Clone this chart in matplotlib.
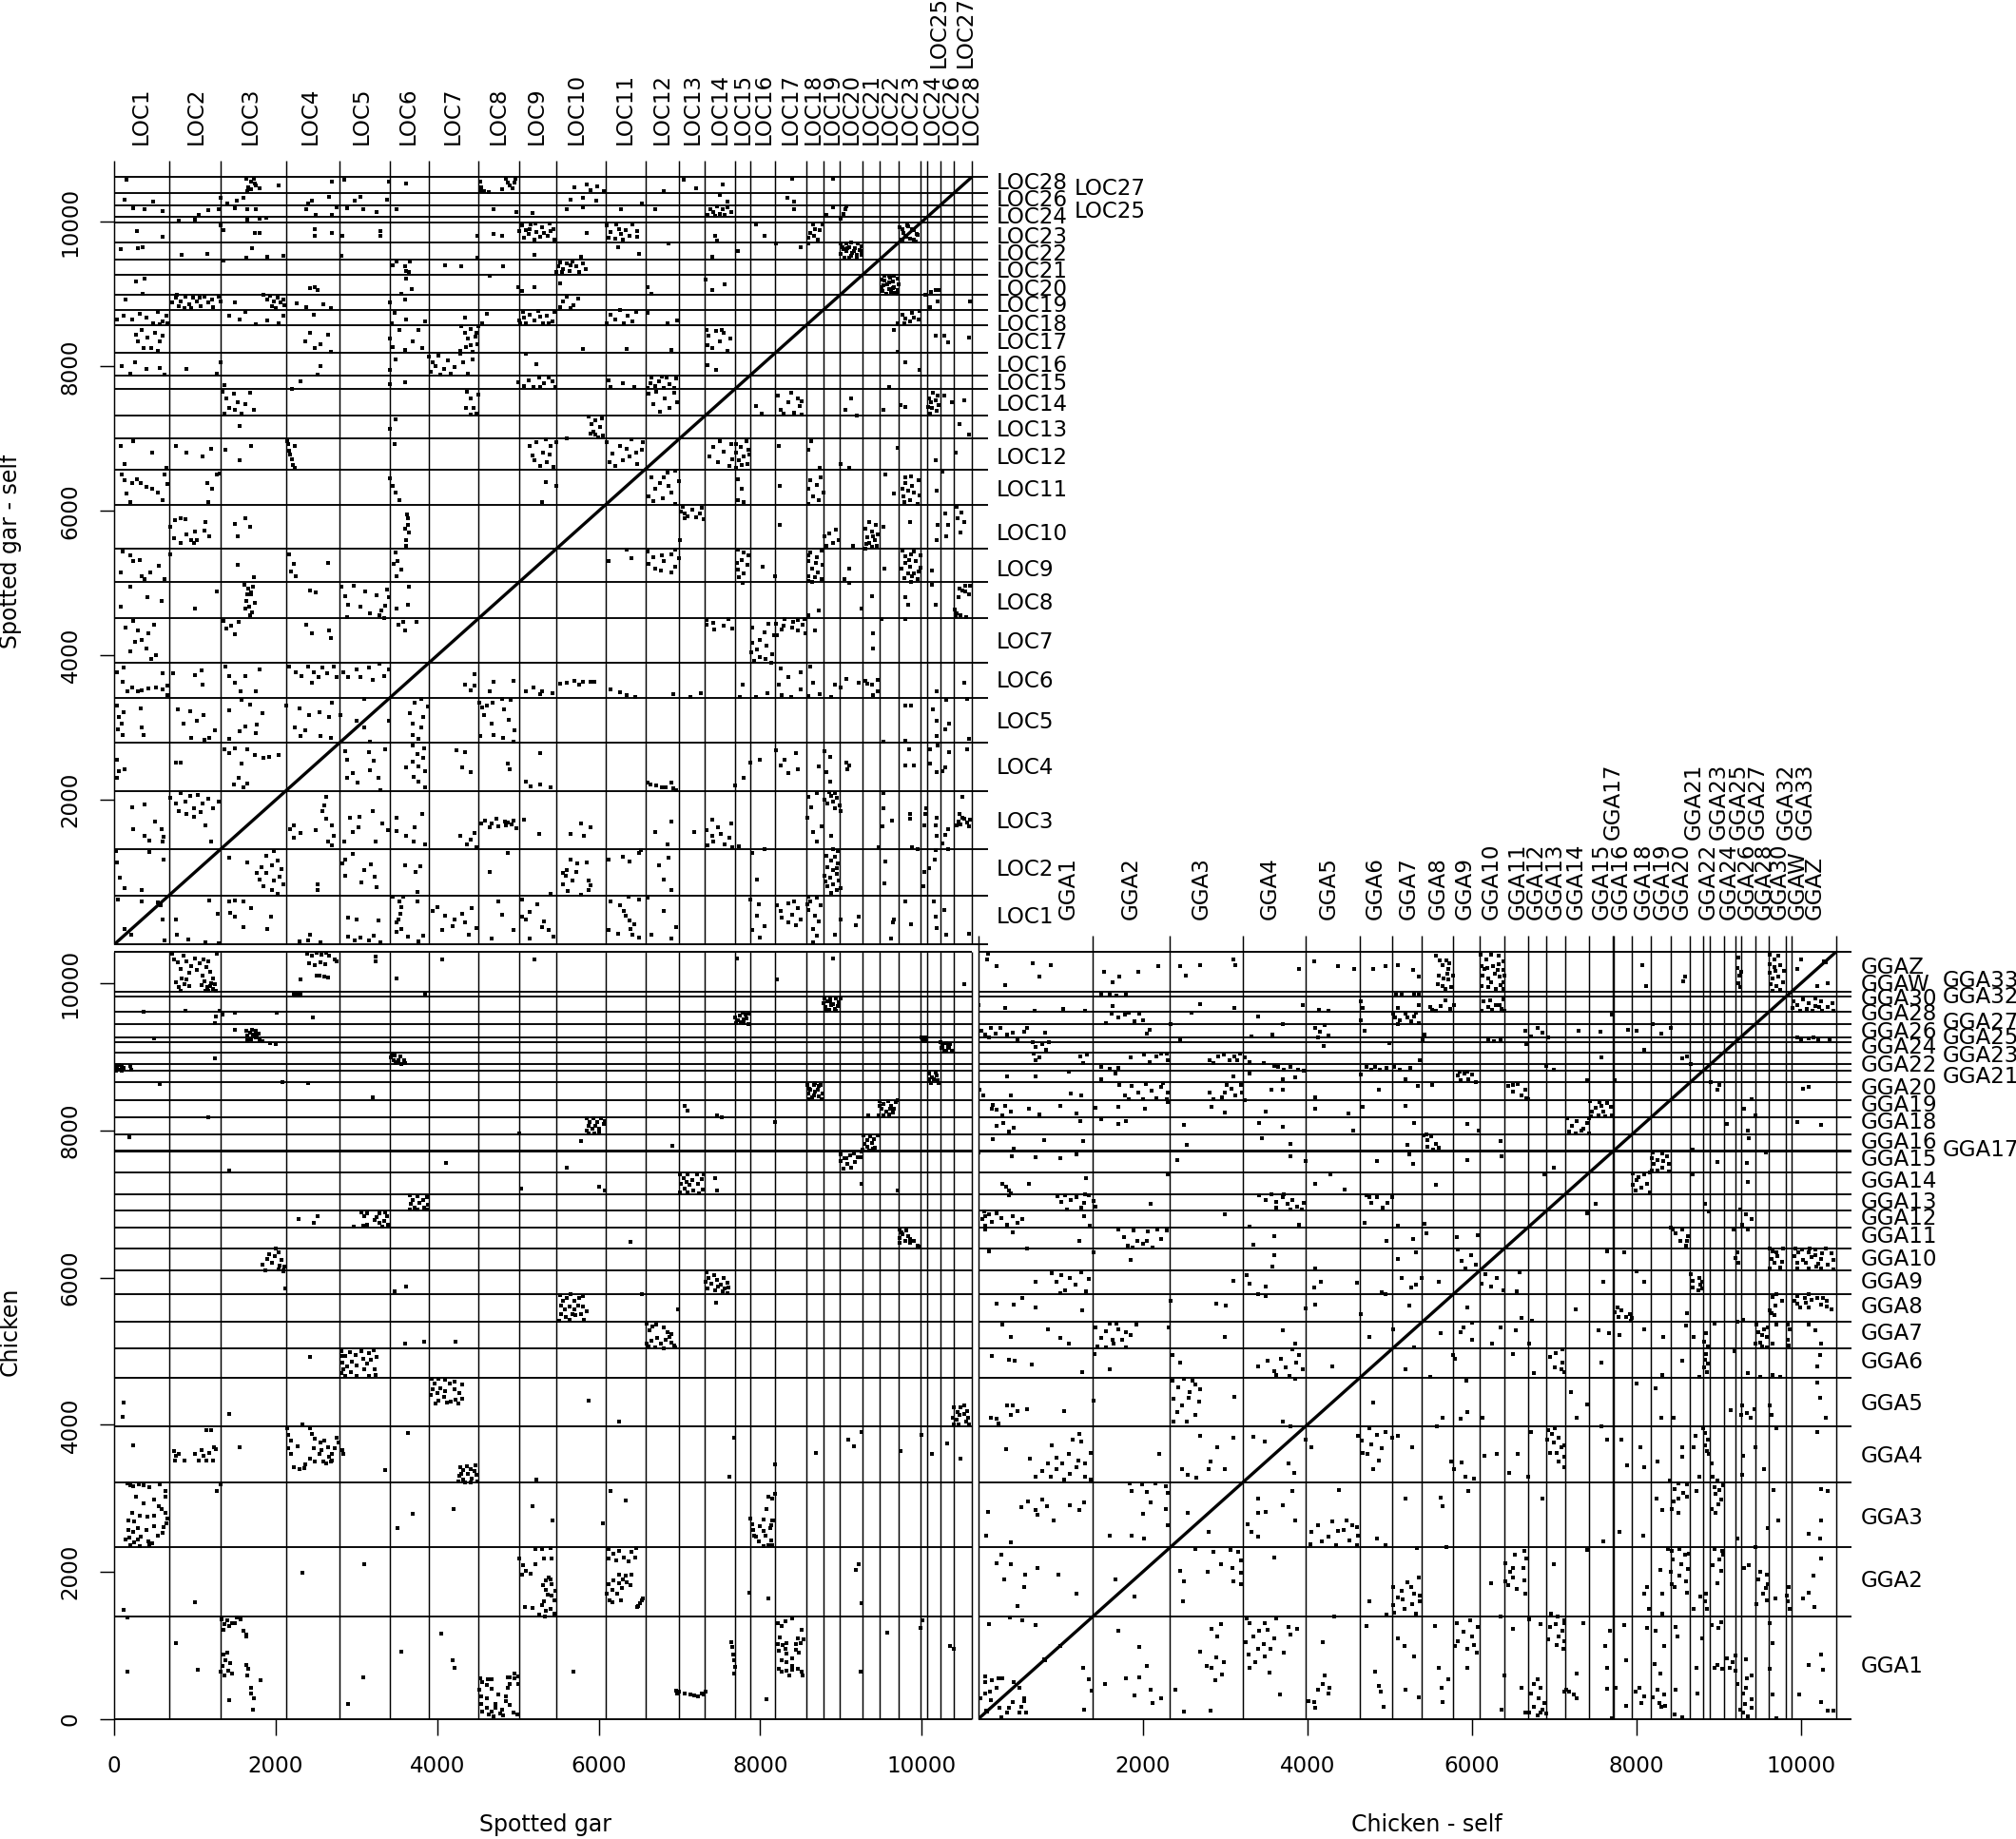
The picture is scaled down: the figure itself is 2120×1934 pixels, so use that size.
import numpy as np
import matplotlib
matplotlib.use('Agg')
import matplotlib.pyplot as plt

W, H = 2120, 1934
plt.rcParams['font.family'] = ['DejaVu Sans']
FS = 16.6

gar_breaks = [677,1314,2126,2787,3416,3893,4514,5016,5478,6083,6576,6998,7317,7691,7874,8185,8570,8785,8985,9270,9473,9712,9990,10070,10230,10395,10620]
gga_breaks = [1390,2333,3213,3980,4645,5033,5395,5777,6093,6400,6680,6909,7139,7430,7719,7730,7945,8175,8415,8652,8808,8897,9062,9205,9270,9444,9609,9822,9887,10434]

gar_top_low = ['LOC1','LOC2','LOC3','LOC4','LOC5','LOC6','LOC7','LOC8','LOC9','LOC10','LOC11','LOC12','LOC13','LOC14','LOC15','LOC16','LOC17','LOC18','LOC19','LOC20','LOC21','LOC22','LOC23','LOC24','LOC26','LOC28']
gar_top_low_at = [338,1015,1692,2424,3069,3642,4199,4756,5234,5727,6324,6786,7160,7502,7780,8043,8377,8652,8888,9123,9370,9614,9853,10132,10367,10614]
gar_top_up = ['LOC25','LOC27']
gar_top_up_at = [10206,10535]
gar_right_low = ['LOC1','LOC2','LOC3','LOC4','LOC5','LOC6','LOC7','LOC8','LOC9','LOC10','LOC11','LOC12','LOC13','LOC14','LOC15','LOC16','LOC17','LOC18','LOC19','LOC20','LOC21','LOC22','LOC23','LOC24','LOC26','LOC28']
gar_right_low_at = [385,1043,1701,2450,3070,3640,4175,4726,5187,5687,6291,6738,7110,7465,7755,8004,8320,8574,8833,9057,9311,9547,9780,10057,10297,10534]
gar_right_up = ['LOC25','LOC27']
gar_right_up_at = [10140,10459]

gga_top_low = ['GGA1','GGA2','GGA3','GGA4','GGA5','GGA6','GGA7','GGA8','GGA9','GGA10','GGA11','GGA12','GGA13','GGA14','GGA15','GGA16','GGA18','GGA19','GGA20','GGA22','GGA24','GGA26','GGA28','GGA30','GGAW','GGAZ']
gga_top_low_at = [1090,1857,2716,3550,4260,4829,5234,5589,5919,6233,6563,6786,7017,7264,7578,7809,8090,8321,8552,8874,9122,9345,9551,9741,9964,10170]
gga_top_up = ['GGA17','GGA21','GGA23','GGA25','GGA27','GGA32','GGA33']
gga_top_up_at = [7718,8701,8998,9246,9468,9823,10055]
gga_right_low = ['GGA1','GGA2','GGA3','GGA4','GGA5','GGA6','GGA7','GGA8','GGA9','GGA10','GGA11','GGA12','GGA13','GGA14','GGA15','GGA16','GGA18','GGA19','GGA20','GGA22','GGA24','GGA26','GGA28','GGA30','GGAW','GGAZ']
gga_right_low_at = [714,1879,2739,3574,4283,4858,5245,5598,5941,6249,6563,6803,7025,7301,7602,7832,8108,8340,8571,8884,9124,9341,9587,9793,9978,10208]
gga_right_up = ['GGA17','GGA21','GGA23','GGA25','GGA27','GGA32','GGA33']
gga_right_up_at = [7739,8722,9018,9264,9470,9808,10034]

gar_chicken_xy = [
720,10400,740,10320,790,10280,830,10200,860,10380,900,10300,930,10140,950,10240,1000,10340,1030,10180,1060,10270,1090,10100,1110,10330,1140,10220,1170,10300,1190,10160,1220,10060,
760,10010,800,9950,830,9900,870,9990,900,10050,930,9960,1080,9980,1120,10030,1150,9950,1170,9900,1200,10000,1220,9930,1250,9990,1130,9900,1190,9960,1260,9900,840,10060,
2390,10400,2450,10380,2510,10410,2570,10390,2620,10420,2660,10370,2410,10270,2490,10250,2550,10280,2610,10260,2510,10110,2540,10100,2600,10090,2650,10080,2730,10330,
2230,9860,2250,9845,2270,9870,2290,9850,2310,9860,2240,9835,2280,9835,2300,9875,2260,9855,
8800,9800,8830,9760,8860,9810,8900,9720,8940,9790,8970,9740,8810,9680,8850,9640,8880,9700,8920,9650,8960,9690,8820,9620,8940,9620,8870,9760,8780,9730,8990,9800,
7720,9500,7750,9560,7780,9600,7800,9510,7820,9580,7850,9450,7700,9460,7760,9470,7830,9520,7870,9590,7800,9460,7690,9540,
1640,9360,1680,9330,1710,9370,1750,9350,1790,9310,1650,9290,1690,9240,1720,9300,1760,9260,1800,9220,1650,9230,1770,9300,1840,9210,1930,9190,2000,9170,
10000,9270,10020,9250,10040,9270,10060,9240,10010,9225,10050,9215,
10230,9195,10260,9170,10300,9190,10350,9180,10240,9120,10280,9090,10320,9130,10370,9080,10260,9140,10340,9120,10300,9080,
3440,9050,3470,9020,3430,8990,3460,8950,3510,8930,3550,8900,3590,8960,3540,9000,3490,8910,3600,8920,3520,8960,
10,8890,40,8860,70,8830,100,8880,20,8810,60,8890,120,8850,90,8810,200,8880,210,8830,
10090,8780,10130,8720,10170,8790,10200,8680,10110,8650,10150,8700,10210,8640,10090,8690,10190,8750,
8580,8620,8620,8560,8660,8620,8710,8550,8750,8620,8600,8500,8640,8450,8680,8530,8730,8460,8770,8500,8590,8430,8760,8420,8660,8480,8610,8570,8720,8600,
9480,8400,9530,8360,9580,8400,9620,8330,9680,8390,9500,8290,9560,8260,9610,8290,9660,8300,9470,8210,9520,8200,9590,8220,9640,8240,9700,8410,9480,8340,
5850,8170,5890,8110,5930,8160,5980,8120,6030,8170,5870,8060,5920,8020,5960,8060,6010,8020,6060,8090,5880,7960,5950,7960,6000,7980,5850,8000,6070,8130,
9280,7930,9320,7870,9360,7920,9410,7880,9450,7940,9290,7820,9330,7780,9380,7830,9420,7760,9270,7740,9350,7730,9400,7750,
9000,7680,9040,7620,9080,7550,9130,7500,9170,7570,9210,7640,9250,7710,9030,7480,8990,7580,9110,7660,9160,7690,9260,7640,
7010,7410,7050,7350,7100,7410,7160,7320,7220,7400,7280,7340,7020,7270,7060,7210,7120,7260,7170,7180,7230,7270,7290,7200,7000,7160,7100,7160,7240,7150,7090,7300,7300,7410,
3660,7120,3700,7060,3750,7110,3830,7050,3870,7100,3670,7000,3720,6950,3780,7010,3840,6950,3880,6990,3660,6920,3760,6920,3870,6920,
3060,6890,3100,6840,3130,6720,3090,6700,3250,6820,3290,6870,3340,6770,3380,6830,3280,6740,3320,6690,3390,6720,3230,6780,3360,6890,3130,6870,
9720,6650,9760,6590,9810,6640,9850,6530,9900,6500,9950,6440,9730,6540,9790,6500,9860,6470,9970,6420,9750,6620,9830,6560,9720,6480,
2000,6390,2040,6340,1990,6290,1900,6250,1840,6180,1870,6100,1960,6200,2050,6160,2090,6090,2040,6110,2110,6150,2070,6240,1920,6320,2100,6100,
7330,6070,7360,5990,7390,5920,7430,6040,7470,5970,7510,5910,7550,5990,7590,5930,7350,5850,7440,5830,7530,5810,7590,5790,7610,5860,7320,5940,7480,5880,7560,5850,
5520,5760,5560,5690,5600,5730,5650,5770,5700,5690,5760,5720,5810,5750,5530,5620,5580,5570,5640,5610,5700,5570,5750,5620,5810,5610,5530,5500,5590,5460,5640,5430,5710,5490,5780,5500,5820,5430,5510,5420,5850,5540,5670,5510,
6590,5370,6630,5280,6660,5340,6710,5360,6800,5320,6850,5260,6900,5230,6650,5140,6720,5180,6770,5110,6830,5150,6900,5120,6590,5100,6930,5080,6700,5050,6950,5050,6620,5060,6800,5040,6880,5200,
2810,5000,2860,4930,2920,4990,2990,4950,3060,5000,3150,4980,3220,5010,3250,4920,2830,4850,2880,4800,2940,4860,3000,4810,3080,4900,3130,4830,3180,4880,3230,4760,2810,4700,2860,4660,2930,4710,3000,4670,3100,4750,3150,4660,3240,4680,2840,4760,
3930,4630,3970,4560,4010,4620,4100,4610,4160,4560,4220,4590,3950,4480,4000,4430,4040,4500,4080,4380,3920,4400,4010,4330,4100,4460,4210,4480,4270,4430,4310,4350,4230,4340,4170,4310,4260,4290,4120,4300,4310,4550,3980,4290,
10400,4240,10440,4180,10480,4240,10530,4260,10560,4190,10390,4100,10430,4070,10470,4130,10520,4150,10570,4090,10400,4010,10450,4000,10590,4000,10550,4040,
740,3650,760,3580,750,3510,800,3610,870,3510,1000,3610,1050,3510,1080,3660,1110,3580,1140,3510,1180,3620,1220,3520,1240,3700,1260,3670,1140,3930,1200,3930,
2140,3950,2160,3860,2190,3790,2420,3950,2450,3880,2490,3810,2550,3760,2600,3790,2650,3700,2700,3600,2730,3680,2750,3830,2780,3760,2160,3680,2190,3600,2370,3460,2420,3540,2480,3500,2540,3610,2590,3500,2620,3470,2680,3500,2660,3560,2700,3510,2230,3430,2300,3400,2360,3410,2820,3660,2840,3600,2470,3680,2570,3660,
4280,3430,4320,3380,4370,3440,4420,3400,4470,3450,4270,3310,4320,3260,4380,3330,4430,3270,4490,3320,4260,3230,4340,3220,4420,3220,4500,3230,4460,3370,4300,3340,
170,3200,200,3180,240,3170,310,3190,370,3180,430,3150,560,3190,630,3100,640,3020,270,3020,370,2930,490,2980,550,2900,590,2850,630,2800,660,2720,650,2660,220,2800,180,2700,250,2690,320,2760,410,2750,500,2760,180,2570,240,2550,300,2600,400,2570,490,2620,600,2530,140,2440,190,2470,250,2400,330,2480,420,2420,470,2390,200,2370,320,2350,440,2360,290,2440,540,2500,610,2610,
7880,2720,7900,2650,7910,2570,7950,2480,7980,2420,8040,2350,8100,2370,8150,2360,8130,2430,8040,2560,8000,2620,8130,2640,8170,2700,8040,2710,8120,2600,8070,2500,8080,2850,8100,3020,8180,3060,8150,3000,7920,2500,8150,2700,
5010,2180,5060,2090,5100,2020,5050,1970,5160,1980,5210,2110,5320,2190,5400,2320,5300,2310,5420,2190,5220,2310,5340,1890,5400,1900,5310,1820,5420,1830,5340,1760,5460,1750,5420,1680,5320,1600,5450,1610,5380,1930,5370,1690,5090,1520,5180,1510,5300,1550,5350,1470,5410,1500,5260,1420,5330,1390,5450,1430,
6120,2310,6180,2250,6250,2290,6310,2200,6400,2280,6450,2200,6120,2190,6220,2160,6370,2150,6330,1950,6250,1960,6180,1890,6120,1840,6100,1700,6130,1620,6170,1760,6250,1850,6300,1900,6400,1970,6390,1820,6230,1710,6290,1780,6170,1590,6280,1610,6350,1860,6460,2330,
6490,1540,6510,1570,6530,1610,6550,1640,6480,1520,
1330,1360,1370,1290,1400,1340,1460,1310,1520,1380,1570,1360,1600,1200,1640,1150,1350,1220,1430,1270,1500,1300,1640,1120,1350,880,1380,800,1340,720,1370,600,1410,660,1440,760,1400,900,1460,620,1640,740,1660,680,1650,590,1700,420,1730,280,1700,350,1720,130,1810,530,
4530,560,4560,500,4520,400,4550,310,4630,540,4540,210,4610,290,4680,410,4720,210,4760,340,4800,130,4680,100,4700,40,4850,310,4870,420,4900,200,4950,90,4960,550,5000,580,4900,570,4960,620,5000,480,4900,480,4990,70,4780,80,4640,60,4720,160,4560,100,4850,240,4620,150,4810,50,4620,470,4680,540,4870,570,
7640,1050,7650,980,7680,800,7690,710,7660,880,7680,620,
8220,1300,8270,1260,8310,1330,8400,1370,8510,1210,8470,1100,8540,1090,8320,1040,8280,1010,8310,960,8230,930,8320,890,8440,940,8480,900,8260,800,8320,770,8230,690,8320,660,8400,670,8260,640,8400,730,8470,690,8510,640,8530,600,8400,830,8500,1040,8240,1110,8220,1020,8440,1020,8360,600,
6960,390,6970,350,6990,370,7060,350,7130,340,7180,320,7230,310,7280,350,7300,340,7320,370,
120,4300,110,4110,240,3720,1270,3100,1560,3690,1320,3190,4110,7560,3600,5100,1430,4150,2270,3710,3100,2100,3640,3890,6340,2970,6050,2660,2330,1990,1000,1590,120,1480,160,1380,170,640,770,1030,1040,670,1320,650,1420,260,3360,3390,2900,210,3080,570,3550,920,4050,1160,4190,800,4210,700,4200,2860,3510,2600,5230,3260,5180,2900,5430,2700,5690,650,3700,2790,
6150,3100,8100,1640,7870,1720,9260,1570,9570,1180,9990,1240,10010,1340,10400,960,10350,1000,9240,640,8080,270,9250,3900,8690,3620,9180,2030,9220,2100,7620,3300,7680,3820,8180,3460,9160,3710,9090,3800,10000,3860,9740,3640,10310,3750,10480,3540,10120,3600,
2330,4000,6250,4050,5870,4330,4230,5130,3840,5130,3610,5880,3470,5810,2120,5850,2420,4920,2810,4930,6540,5770,6980,5570,7450,5660,6390,6490,2970,6690,2520,6840,2290,6800,2470,6740,9060,7620,9340,8200,8680,8640,9250,7280,9700,7190,7440,7350,7460,7190,6080,7180,6000,7240,5040,7210,5010,7960,5780,7860,5600,7500,6910,7790,7070,8340,7100,8270,7460,8210,7520,8180,8180,8120,
1250,9460,1250,8980,1170,8180,1420,7450,190,7910,560,8630,500,9250,1260,9550,1340,9580,1500,9370,2080,8660,2400,8640,3200,8450,1270,10400,1500,9600,1310,9630,880,9620,2460,9530,3240,10300,4060,10320,3500,10060,3850,9860,2010,9600,360,9610,2310,10050,2760,10300,3240,10360,5200,10330,8900,10340,7710,10340,8210,10050,10530,9990,
]

gar_self_xy = [
155,10580,1640,10590,1690,10560,1740,10530,1660,10480,1700,10450,1760,10500,1650,10430,1800,10470,1730,10600,2040,10500,4530,10550,4550,10480,4580,10430,4640,10410,4850,10590,4880,10540,4900,10500,4930,10470,4960,10540,4800,10450,4970,10600,4540,10420,2700,10560,2850,10580,3400,10560,3620,10530,5700,10480,5850,10520,5900,10440,5980,10490,6060,10430,6800,10420,7050,10580,7200,10470,7530,10520,8400,10590,8900,10600,
130,10300,480,10280,1320,10330,1400,10250,1520,10290,1600,10330,2450,10290,2400,10250,2660,10340,2980,10290,3050,10340,3380,10300,5650,10300,5800,10330,5970,10290,6540,10260,7500,10370,7600,10280,8330,10330,8420,10280,
230,10190,380,10170,600,10150,1050,10090,1170,10160,1300,10170,1500,10190,1650,10170,1750,10180,2380,10180,2500,10100,2700,10100,2760,10200,2880,10190,3090,10180,3250,10140,3500,10180,4700,10170,4980,10130,5180,10120,5600,10180,5800,10200,6280,10180,6700,10170,7350,10100,7380,10180,7420,10130,7460,10210,7500,10110,7530,10170,7560,10090,7600,10200,7640,10140,7440,10080,8420,10170,8820,10100,9050,10170,9060,10220,9030,10110,8900,10200,
800,10020,1000,10030,1650,10030,1800,10040,1880,10050,8990,10040,
280,9870,600,9790,1320,9950,1350,9880,1740,9850,1800,9850,2480,9900,2480,9800,2700,9840,2820,9800,3300,9800,3300,9870,4500,9800,4700,9830,4800,9800,
5050,9950,5100,9880,5160,9960,5230,9860,5300,9920,5390,9980,5440,9900,5070,9780,5130,9830,5200,9750,5280,9790,5370,9800,5450,9760,5140,9900,5320,9840,5400,9870,5020,9870,5220,9980,
5850,9850,6100,9950,6150,9860,6220,9970,6280,9830,6340,9880,6420,9960,6470,9790,6120,9780,6200,9770,6300,9760,6380,9800,6480,9870,6250,9900,
8590,9780,8620,9850,8650,9960,8680,9900,8710,9760,8740,9880,8600,9700,8660,9800,8770,9970,7440,9800,7460,9740,7950,9970,8050,9800,
9730,9920,9770,9850,9810,9790,9880,9900,9900,9760,9750,9760,9830,9940,9950,9820,
80,9620,300,9640,350,9650,840,9540,1150,9550,1350,9470,1640,9510,1710,9630,1890,9520,2100,9530,2810,9530,3500,9450,4500,9500,5200,9540,5780,9520,6240,9650,6500,9550,6870,9700,7400,9520,7720,9600,8200,9700,8500,9650,
9000,9700,9030,9620,9060,9700,9100,9650,9130,9710,9170,9640,9210,9700,9250,9660,9000,9560,9040,9510,9070,9590,9120,9530,9160,9590,9200,9500,9250,9540,9020,9650,9080,9640,9140,9570,9190,9540,9260,9600,9100,9500,9230,9610,
3450,9400,3600,9380,3610,9320,3650,9300,3660,9450,4100,9400,4300,9390,4820,9380,5480,9300,
5520,9440,5560,9350,5600,9420,5640,9320,5680,9450,5720,9380,5760,9300,5800,9430,5540,9310,5650,9400,5500,9380,5840,9350,
270,9180,350,9000,380,9220,2430,9080,2480,9100,2520,9060,3560,9000,3620,9220,3680,9070,4650,9260,5000,9100,5050,9040,5200,9100,5520,9150,6600,9100,6650,9000,7320,9200,7400,9050,7560,9130,
140,8930,760,8950,720,8880,780,8990,830,8900,880,8970,930,8860,980,8950,1030,8900,1070,8830,1120,8960,1160,8880,1210,8930,800,8830,870,8810,950,8800,1060,8950,1230,8820,1290,8960,
1320,8900,1500,8880,1850,8990,1890,8930,1930,8980,1980,8900,2030,8950,2060,8880,2090,8930,2110,8850,1950,8830,2000,8800,2260,8870,2380,8820,2590,8860,2680,8800,
3420,8880,3600,8920,5520,8820,5560,8900,5600,8970,5650,8800,5690,8850,5740,8940,
30,8650,120,8700,220,8650,320,8730,400,8680,480,8600,540,8750,600,8620,650,8700,560,8580,660,8590,1420,8700,1560,8650,1630,8760,1750,8580,1900,8630,2040,8600,2090,8700,2470,8720,3440,8600,3470,8740,3620,8650,3850,8620,4350,8680,4560,8600,4620,8730,
5020,8640,5060,8760,5100,8590,5150,8710,5200,8640,5250,8770,5310,8600,5360,8700,5430,8620,5450,8760,5080,8680,5380,8590,5030,8590,5280,8690,
6100,8600,6150,8720,6200,8650,6260,8780,6310,8600,6360,8700,6420,8620,6460,8750,6600,8740,6850,8600,6970,8630,
270,8440,300,8350,340,8500,370,8260,410,8400,460,8250,510,8470,540,8210,570,8350,600,8420,2370,8350,2420,8470,2480,8250,2560,8300,2650,8440,2690,8200,3420,8380,3450,8270,3530,8500,3600,8230,3700,8350,3770,8500,3820,8250,
4300,8560,4340,8470,4380,8390,4420,8520,4470,8410,4500,8300,4360,8270,4440,8200,4410,8290,4490,8460,4280,8210,4510,8550,
5800,8240,6350,8240,6900,8230,7330,8510,7360,8420,7400,8250,7450,8490,7500,8350,7550,8460,7590,8220,7630,8380,7350,8290,7520,8510,
100,8000,200,7900,260,8050,400,7960,560,7980,620,7880,900,7960,1270,7900,1320,8050,2560,8000,2520,7880,3420,7950,3480,8090,
3900,8130,3950,8060,3980,8000,4020,8150,4080,7960,4130,8080,4170,7900,4220,7990,4280,8170,4320,8050,4380,7900,3920,7920,4040,7890,4440,8100,
5230,8030,5100,8180,7350,8020,7450,7950,
5000,7780,5080,7730,5130,7800,5190,7720,5260,7840,5320,7770,5380,7850,5430,7790,5460,7720,5280,7710,
1360,7740,2310,7790,2200,7690,3420,7750,3600,7780,6120,7800,6150,7720,6300,7770,6440,7720,6600,7700,6650,7840,6700,7730,6750,7790,6800,7700,6840,7850,6880,7760,6930,7700,6960,7830,6640,7770,6780,7860,
1340,7650,1390,7560,1430,7420,1480,7620,1530,7510,1580,7340,1620,7480,1680,7640,1730,7400,1370,7350,1500,7400,4370,7650,4410,7550,4450,7420,4490,7340,4420,7330,4510,7610,4360,7430,6620,7620,6670,7480,6710,7650,6760,7370,6820,7550,6880,7420,6930,7640,6970,7500,
5880,7300,5910,7200,5930,7100,5960,7250,5990,7020,6020,7160,6040,7280,5900,7070,5960,7060,6050,7040,
1560,7180,3420,7130,3480,7270,5600,7000,
2140,6960,2170,6830,2200,6710,2240,6900,2210,6640,2180,6780,2240,6600,2160,6920,
80,6900,240,6960,130,6650,470,6800,650,6600,760,6900,900,6800,1100,6750,1200,6860,1380,6850,1550,6700,1700,6900,3470,6920,
5150,6900,5180,6770,5230,6950,5270,6620,5310,6800,5360,6680,5400,6900,5440,6610,5470,6950,5200,6700,5340,6990,5390,6780,
6100,6950,6170,6790,6200,6620,6260,6900,6300,6700,6350,6860,6410,6990,6470,6650,6530,6850,6550,6950,6130,6680,6380,6760,6460,6810,
100,6500,150,6240,220,6390,280,6440,330,6380,400,6330,470,6310,540,6260,600,6150,660,6370,130,6420,200,6120,620,6500,
1150,6380,1210,6300,1270,6500,1170,6120,1310,6520,3450,6350,3490,6260,3530,6150,3420,6450,5300,6120,5350,6400,5470,6350,
1030,5600,820,5900,690,5780,740,5620,830,5560,890,5680,1000,5720,1130,5850,1180,5650,990,5560,880,5880,950,5590,750,5870,1120,5730,
1500,5820,1620,5900,1680,5780,1530,5650,3630,5950,3640,5800,3650,5700,3620,5600,3610,5520,3640,5900,3600,5760,
110,5440,200,5380,320,5320,450,5150,700,5400,80,5150,340,5100,380,5050,620,5050,550,5240,240,5300,2170,5400,2220,5270,2250,5100,2190,5160,
1530,5260,1730,5080,3480,5430,3460,5270,3500,5100,2650,5280,3510,5300,3550,5190,
1610,4980,1660,4920,1690,4870,1640,4760,1670,4680,1710,4590,1700,4840,1620,4650,1680,4550,1720,4950,1650,4850,1740,4730,
2810,4950,2860,4820,2900,4700,2970,4960,3050,4680,3110,4890,3170,4580,3250,4830,3310,4620,3350,4690,3400,4800,3380,4910,2890,4530,3280,4560,3340,4520,
200,4950,410,4800,80,4670,590,4760,1000,4650,1270,4880,2420,4900,2500,4870,3650,4950,3640,4700,3500,4650,
230,4480,300,4350,340,4220,400,4100,460,3950,520,4000,260,4190,140,4390,420,4310,200,4060,500,4430,
1350,4480,1390,4370,1450,4410,1500,4290,1540,4460,2380,4420,2450,4310,2660,4350,2690,4240,3520,4420,3600,4350,3740,4460,3580,4460,
40,3770,110,3640,300,3500,220,3560,170,3500,340,3520,420,3540,520,3560,600,3530,660,3580,600,3760,660,3450,120,3830,730,3760,1000,3730,1080,3790,1100,3600,
1380,3850,1430,3710,1500,3620,1570,3500,1620,3720,1750,3500,1800,3810,
2170,3850,2250,3770,2320,3710,2400,3850,2470,3770,2530,3700,2580,3830,2640,3750,2720,3840,2760,3700,2840,3770,2900,3700,3000,3800,3050,3700,3150,3830,3200,3660,3340,3720,3400,3800,3290,3880,2450,3620,
30,3300,60,3150,90,3050,50,2980,110,2900,340,3000,330,3270,370,2900,120,3220,
790,3250,940,3230,1110,3180,1030,3100,860,3060,950,2860,1120,2830,1250,2960,1180,2860,
1420,3240,1580,3390,1680,3320,1840,3200,1770,3040,1620,3020,1560,2950,1750,2920,1430,2850,
2130,3300,2300,3270,2410,3170,2540,3210,2700,3350,2660,3150,2240,3010,2370,2960,2560,2890,2680,2860,2310,2890,
2800,3170,3400,3100,3100,3000,
30,2550,40,2300,60,2400,130,2420,760,2520,830,2520,1370,2700,1420,2650,1500,2720,1580,2500,1650,2700,1740,2620,1850,2580,1920,2600,2040,2620,
1540,2310,1650,2230,1480,2220,1600,2180,
700,2030,760,1950,830,2100,880,1980,940,2050,990,1880,1040,2070,1100,1950,1160,2020,1230,1880,800,1850,900,1800,990,1770,1070,1830,1290,1980,1130,1650,1200,1430,
220,1900,380,1940,510,1700,240,1600,380,1500,440,1440,590,1600,610,1490,600,1420,
20,1290,30,1130,70,920,430,1280,610,1180,
50,620,130,780,340,760,540,580,600,340,210,130,
]

chicken_self_xy = [
110,10320,120,10400,230,10240,330,9980,670,10270,740,10090,880,10250,1530,10160,1640,10020,1720,10090,1950,10150,2190,10240,2450,10230,2520,10100,2700,10250,3100,10330,3130,10250,3900,10200,4090,10300,4370,10230,4570,10200,4800,10200,4950,10230,5290,10180,5360,10090,5100,10250,8070,10250,8120,9960,8590,10090,8570,10030,
5570,10370,5610,10310,5640,10250,5690,10310,5720,10200,5700,10130,5660,10060,5590,9990,5650,9960,5720,10050,5770,10100,5750,9950,5600,10100,5680,9920,5730,10270,
6110,10390,6180,10320,6240,10390,6330,10370,6390,10300,6120,10240,6190,10210,6260,10240,6330,10260,6380,10180,6130,10100,6200,10060,6280,10130,6340,10090,6380,10010,6120,9960,6200,9950,6290,9920,6350,9970,6390,9930,6240,10020,6150,10190,6310,10180,6400,10110,
9240,10350,9230,10210,9250,10100,9240,10000,9260,9950,9270,10150,
9620,10390,9680,10320,9730,10380,9620,10260,9680,10220,9750,10250,9790,10170,9620,10140,9650,10070,9730,10090,9630,9990,9700,9960,9780,10020,9660,9900,9750,9910,9690,10170,
10000,10330,9960,10200,10280,10300,
1500,9860,1600,9840,1680,9830,1800,9850,5080,9850,5150,9840,5300,9860,5360,9840,
10,9700,330,9660,690,9620,1030,9650,1300,9620,1640,9690,2700,9720,3120,9670,3950,9700,4140,9640,4260,9620,4680,9660,4650,9750,5360,9700,5100,9660,
5490,9680,5560,9620,5620,9690,5680,9770,5740,9650,5780,9700,5520,9640,6120,9620,6200,9680,6290,9710,6360,9650,6140,9750,6250,9640,6340,9700,6400,9620,6220,9770,6390,9780,
5050,9590,5120,9500,5190,9590,5260,9480,5300,9550,5360,9460,5100,9450,5220,9530,5320,9600,5070,9530,1560,9460,1620,9590,1700,9540,1780,9580,1830,9600,1900,9480,1960,9590,
2000,9500,2600,9600,3400,9550,2340,9450,3700,9450,4650,9500,7700,9570,8200,9450,
40,9350,90,9300,160,9400,210,9320,270,9400,350,9300,420,9330,480,9230,560,9340,130,9260,600,9400,810,9330,2050,9310,2090,9370,3320,9280,3580,9300,
4100,9390,4160,9340,4210,9430,4260,9290,4130,9270,4700,9350,5430,9300,6650,9350,6720,9280,6800,9400,6860,9330,6930,9260,7300,9350,7560,9340,7900,9370,8000,9350,8300,9310,8420,9400,
660,9200,700,9130,780,9170,830,9100,860,9200,2450,9230,4200,9150,5000,9190,5400,9230,6200,9240,6270,9210,6350,9230,6660,9180,8090,9100,
680,9040,740,8990,1240,9000,1280,8920,1320,9030,700,8950,1850,8990,2020,9030,2090,8930,2170,9010,2230,9050,2310,8950,2290,9040,
2810,8960,2860,8920,2920,9000,2990,9030,3060,8960,3110,9010,3180,9050,3240,8990,3300,8930,3150,8950,3470,8920,5370,8950,7570,8990,8560,8980,8620,9010,8660,8900,
1500,8860,1600,8840,1700,8850,3600,8880,3650,8860,3720,8830,3800,8870,3890,8830,3960,8810,4720,8860,4780,8820,4830,8870,4880,8830,4960,8850,5060,8870,5130,8820,5250,8850,6900,8880,7000,8830,
350,8740,700,8730,1100,8800,1500,8700,1670,8780,3100,8730,3300,8770,3700,8700,3850,8720,4650,8760,5200,8700,
5830,8750,5870,8680,5910,8780,5960,8690,6000,8760,6050,8660,5850,8800,5950,8800,7400,8680,7740,8680,
20,8560,60,8470,400,8480,1130,8500,1250,8480,1720,8620,1790,8470,1870,8600,1950,8520,2000,8420,2040,8630,2110,8540,2170,8440,2230,8590,2290,8430,2310,8520,1830,8430,2250,8640,
2810,8510,2860,8430,2960,8450,3020,8620,3080,8570,3130,8470,3190,8620,3210,8510,3000,8510,3700,8560,3560,8560,4100,8450,4870,8560,5350,8600,5520,8620,
6440,8600,6500,8530,6560,8630,6600,8480,6660,8440,6650,8560,6500,8620,6680,8420,
180,8350,170,8300,300,8200,220,8280,330,8340,400,8260,620,8290,750,8220,1000,8340,1200,8230,1430,8310,1700,8320,2030,8290,2310,8380,2840,8320,3000,8240,3240,8410,3500,8260,4100,8300,4500,8230,4680,8320,5200,8330,
7440,8400,7500,8310,7550,8390,7600,8260,7650,8370,7700,8200,7460,8260,7540,8210,7620,8190,7690,8320,7450,8190,7580,8330,
220,8060,310,8100,380,7990,430,8040,1240,8130,1500,8150,1700,8090,1800,8130,2500,8080,3420,8100,3700,8050,4560,8000,5300,8100,5950,8090,6080,8000,
7160,8160,7220,8060,7280,8130,7330,8000,7400,8100,7180,7990,7260,7960,7360,8030,7420,7960,7430,8160,
10,7700,180,7880,430,7750,800,7870,1200,7680,1280,7850,2540,7800,3450,7890,3800,7820,5220,7800,6350,7850,
5410,7930,5460,7870,5510,7920,5560,7820,5600,7770,5460,7780,5530,7740,5450,7950,
410,7650,700,7640,1000,7620,2420,7600,3980,7580,3800,7650,4850,7580,5240,7670,5290,7540,5950,7600,6360,7650,7000,7500,
290,7280,340,7240,380,7180,370,7120,400,7150,620,7270,1310,7350,1300,7130,2300,7400,4100,7270,4280,7400,4450,7200,5570,7260,6880,7400,
960,7110,1010,7030,1060,7120,1130,7060,1200,7100,1290,7020,1350,7120,1400,7040,1430,6960,1250,6950,1080,6930,2100,7000,
3420,7120,3500,7060,3560,7130,3620,7030,3700,7090,3760,7000,3820,7050,3880,6970,3930,6930,3960,7010,3620,6950,3720,7130,3800,6920,
4720,7120,4780,7010,4850,7100,4920,6950,4980,7020,5030,7100,4750,7090,
80,6900,50,6800,90,6700,130,6860,170,6760,220,6880,280,6810,350,6720,420,6830,480,6750,540,6800,90,6840,
1290,6830,1360,6700,3300,6690,3000,6860,3900,6720,4700,6750,5100,6700,5420,6730,
1710,6650,1770,6550,1820,6440,1890,6640,1930,6500,2000,6460,2060,6630,2120,6410,2180,6660,2230,6520,2290,6640,1880,6410,2050,6500,
90,6650,420,6610,1230,6500,3350,6450,3600,6560,4960,6500,5290,6530,5450,6600,5820,6550,6070,6580,
5830,6380,5880,6230,5920,6120,5990,6300,6050,6170,
130,6360,600,6400,1400,6350,1850,6240,3580,6150,3600,6300,4100,6130,5100,6250,5320,6350,
700,5950,900,6060,950,5940,1010,6030,1060,5830,1120,6000,1190,5900,1250,6070,1310,5820,1350,5980,1000,5790,3100,5960,
3270,6030,3300,5920,3400,5780,3490,5880,4170,5950,4080,5870,4600,5930,4900,5800,5150,6000,5260,5870,5320,5900,5390,6000,5600,5950,
230,5650,430,5630,540,5720,700,5600,1270,5550,2340,5690,2900,5650,3010,5620,3500,5750,3980,5580,4100,5640,4650,5500,4950,5770,5240,5620,
300,5360,400,5190,850,5300,1000,5180,1100,5100,1430,5320,1500,5180,1550,5050,1600,5370,1650,5100,1700,5300,1750,5150,1800,5050,1860,5220,1920,5360,1450,5060,1560,5270,1680,5370,1800,5260,1630,5160,2320,5330,3000,5200,3700,5280,3850,5100,4750,5200,5050,5300,
170,4930,370,4890,450,4870,650,4820,1270,4720,1420,4960,1600,4760,2360,4950,2450,4850,3400,4800,
3520,4870,3600,4730,3680,4900,3740,4780,3820,5030,3900,4950,3950,4760,3620,4680,3780,4660,3860,4850,4300,4800,
2360,4600,2430,4510,2500,4620,2570,4440,2640,4550,2370,4350,2480,4260,2560,4370,2640,4130,2700,4480,2420,4180,2540,4050,2690,4310,2380,4040,2610,4600,
160,4100,230,4080,250,4020,350,4260,420,4270,400,4130,480,4190,590,4210,1050,4190,1400,4330,3700,4050,3850,4620,3120,4380,
3800,3980,700,3300,780,3370,880,3290,950,3400,1050,3250,1120,3340,1200,3420,1300,3300,1370,3260,850,3480,950,3550,1020,3470,1100,3600,1220,3520,1300,3480,1370,3620,900,3720,1150,3800,1250,3770,1230,3880,340,3670,630,3540,
2200,3600,2700,3850,2480,3400,2550,3320,2650,3280,3100,3820,3350,3840,3480,3770,2820,3500,2910,3700,
530,2880,610,2960,700,2840,780,2990,840,2900,720,2780,920,2700,1120,2910,1230,2840,1290,2950,120,2820,
1840,3200,1870,3100,1990,3190,2050,3090,2160,3200,2280,3160,2300,3070,2100,2950,2000,2790,2280,2860,
100,2500,400,2400,1600,2490,1870,2500,2020,2460,2310,2640,2800,2550,3400,2800,3400,3000,
280,2230,400,2100,570,1960,720,2050,980,1960,220,2120,320,1900,480,1540,560,1800,
1670,1900,1200,1700,
90,580,170,530,290,560,430,500,90,350,160,260,380,150,420,230,560,250,100,110,280,30,500,90,
1000,1000,800,820,1280,700,1350,540,1380,390,1290,130,
]

def xy(flat):
    a = np.array(flat[:len(flat)//2*2], float).reshape(-1, 2)
    return a[:, 0], a[:, 1]

fig = plt.figure(figsize=(W/100, H/100), dpi=100)
def add_axes(x0, x1, ytop, ybot):
    ax = fig.add_axes([x0/W, 1-ybot/H, (x1-x0)/W, (ybot-ytop)/H])
    for s in ax.spines.values():
        s.set_visible(False)
    ax.patch.set_alpha(0)
    return ax

LV = 1.05
LH = 1.35
DOT = 8.5
def style_axes(ax, xlim, ylim, xt, yt):
    ax.set_xlim(0, xlim); ax.set_ylim(0, ylim)
    ax.set_xticks(xt if xt else []); ax.set_yticks(yt if yt else [])
    ax.tick_params(axis='x', length=12, width=LV, pad=15, labelsize=FS)
    ax.tick_params(axis='y', length=10.8, width=LV, pad=14, labelsize=FS)
    for t in ax.get_yticklabels():
        t.set_rotation(90); t.set_va('center')

xticks = [0,2000,4000,6000,8000,10000]
xticks_b = [2000,4000,6000,8000,10000]
GAR_MAX = 10620; GGA_MAX = 10434; GAR_YMAX = 10626

# ---- gar self (top-left)
a = add_axes(120, 1022, 185.7, 993.3)
style_axes(a, GAR_MAX, GAR_YMAX, [], xticks[1:])
ext_up = (993.3-168.6)/(993.3-185.7)
ext_r = (1039-120)/(1022-120)
for v in [0]+gar_breaks:
    a.plot([v, v], [0, ext_up], color='k', lw=LV, transform=a.get_xaxis_transform(), clip_on=False, solid_capstyle='butt')
    a.plot([0, ext_r], [v, v], color='k', lw=LH, transform=a.get_yaxis_transform(), clip_on=False, solid_capstyle='butt')
x, y = xy(gar_self_xy)
a.scatter(np.r_[x, y], np.r_[y, x], s=DOT, marker='s', c='k', linewidths=0, zorder=3)
a.plot([0, GAR_MAX], [0, GAR_MAX], color='k', lw=2.4, zorder=4, solid_capstyle='butt')

# ---- gar vs chicken (bottom-left)
b = add_axes(120, 1022, 1000.5, 1808)
style_axes(b, GAR_MAX, GGA_MAX, xticks, xticks)
for v in [0]+gar_breaks:
    b.plot([v, v], [0, GGA_MAX], color='k', lw=LV, solid_capstyle='butt', clip_on=False)
for v in [0]+gga_breaks:
    b.plot([0, GAR_MAX], [v, v], color='k', lw=LH, solid_capstyle='butt', clip_on=False)
x, y = xy(gar_chicken_xy)
b.scatter(x, y, s=DOT*1.25, marker='s', c='k', linewidths=0, zorder=3)

# ---- chicken self (bottom-right)
c = add_axes(1028.5, 1931.4, 1000.5, 1808)
style_axes(c, GGA_MAX, GGA_MAX, xticks_b, [])
ext_up = (1808-984.3)/(1808-1000.5)
ext_r = (1947-1028.5)/(1931.4-1028.5)
for v in [0]+gga_breaks:
    c.plot([v, v], [0, ext_up], color='k', lw=LV, transform=c.get_xaxis_transform(), clip_on=False, solid_capstyle='butt')
    c.plot([0, ext_r], [v, v], color='k', lw=LH, transform=c.get_yaxis_transform(), clip_on=False, solid_capstyle='butt')
x, y = xy(chicken_self_xy)
c.scatter(np.r_[x, y], np.r_[y, x], s=DOT, marker='s', c='k', linewidths=0, zorder=3)
c.plot([0, GGA_MAX], [0, GGA_MAX], color='k', lw=2.4, zorder=4, solid_capstyle='butt')

# ---- chromosome labels
def px_y(ax, py):
    return ax.get_xaxis_transform().inverted().transform((0, H-py))[1]
def px_x(ax, px):
    return ax.get_yaxis_transform().inverted().transform((px, 0))[0]
def top_labels(ax, names, at, py):
    t = ax.get_xaxis_transform()
    for n, v in zip(names, at):
        ax.text(v, px_y(ax, py), n, rotation=90, ha='center', va='bottom', fontsize=FS, transform=t, clip_on=False)
def right_labels(ax, names, at, px):
    t = ax.get_yaxis_transform()
    for n, v in zip(names, at):
        ax.text(px_x(ax, px), v, n, ha='left', va='center', fontsize=FS, transform=t, clip_on=False)

top_labels(a, gar_top_low, gar_top_low_at, 152)
top_labels(a, gar_top_up, gar_top_up_at, 71)
right_labels(a, gar_right_low, gar_right_low_at, 1048)
right_labels(a, gar_right_up, gar_right_up_at, 1130)
top_labels(c, gga_top_low, gga_top_low_at, 967)
top_labels(c, gga_top_up, gga_top_up_at, 883)
right_labels(c, gga_right_low, gga_right_low_at, 1957)
right_labels(c, gga_right_up, gga_right_up_at, 2043)

# ---- axis titles
TFS = 17
fig.text(573/W, 1-1919/H, 'Spotted gar', ha='center', va='center', fontsize=TFS)
fig.text(1500/W, 1-1919/H, 'Chicken - self', ha='center', va='center', fontsize=TFS)
fig.text(11/W, 1-580/H, 'Spotted gar - self', rotation=90, ha='center', va='center', fontsize=TFS)
fig.text(11/W, 1-1400/H, 'Chicken', rotation=90, ha='center', va='center', fontsize=TFS)

fig.savefig('out.png', dpi=100, facecolor='white')
